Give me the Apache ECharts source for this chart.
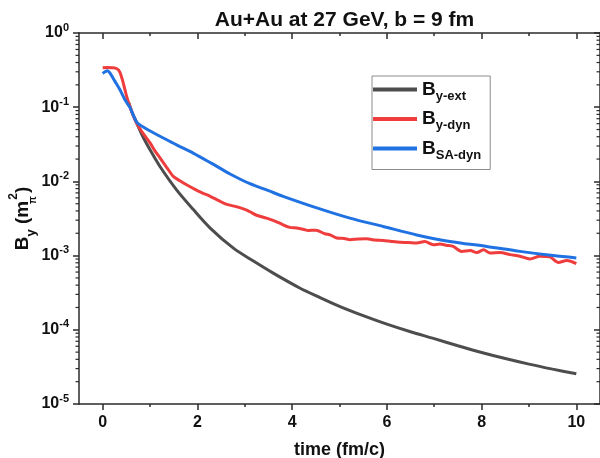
<!DOCTYPE html>
<html lang="en">
<head>
    <meta charset="utf-8"/>
    <title>Au+Au at 27 GeV</title>
    <script src="https://cdn.jsdelivr.net/npm/echarts@6/dist/echarts.min.js"></script>
    <style>
        html, body { margin: 0; padding: 0; background: #fff; }
        #main { width: 600px; height: 458px; }
    </style>
</head>
<body>
<div id="main"></div>
<script>
    // B_y-ext (black)
    var tExt = [0.55, 0.62, 0.68, 0.72, 0.85, 1.0, 1.21, 1.56, 1.91, 2.27, 2.76, 3.2, 3.6, 4.16, 4.6, 5.0, 5.5, 6.0, 6.5, 7.0, 7.5, 8.0, 8.5, 9.0, 9.5, 10.0];
    var bExt = [0.115, 0.085, 0.070, 0.061, 0.040, 0.0267, 0.0159, 0.0077, 0.0042, 0.00235, 0.00126, 0.00083, 0.00058, 0.000366, 0.00027, 0.000207, 0.000155, 0.000119, 0.000094, 0.000076, 0.000061, 0.0000495, 0.000041, 0.0000345, 0.0000295, 0.0000255];

    // B_y-dyn (red)
    var tDyn = [0.0, 0.1, 0.2, 0.3, 0.36, 0.42, 0.47, 0.52, 0.58, 0.68, 0.78, 0.88, 1.0, 1.1, 1.21, 1.35, 1.49, 1.63, 1.77, 1.95, 2.1, 2.27, 2.45, 2.62, 2.8, 3.0, 3.11, 3.25, 3.46, 3.65, 3.81, 3.95, 4.1, 4.25, 4.34, 4.5, 4.69, 4.8, 4.94, 5.1, 5.22, 5.4, 5.57, 5.75, 5.92, 6.1, 6.28, 6.45, 6.63, 6.8, 6.98, 7.12, 7.25, 7.4, 7.58, 7.76, 7.9, 8.04, 8.18, 8.39, 8.6, 8.81, 9.02, 9.23, 9.44, 9.62, 9.8, 10.0];
    var bDyn = [0.340, 0.342, 0.340, 0.330, 0.300, 0.230, 0.172, 0.130, 0.100, 0.068, 0.052, 0.042, 0.033, 0.026, 0.0207, 0.0155, 0.0117, 0.0102, 0.0090, 0.0078, 0.0070, 0.0063, 0.0055, 0.0049, 0.0046, 0.0042, 0.0039, 0.0035, 0.0032, 0.0029, 0.0026, 0.0024, 0.00235, 0.00225, 0.00218, 0.0022, 0.00197, 0.0019, 0.00173, 0.0017, 0.00164, 0.00168, 0.00169, 0.00162, 0.0016, 0.00155, 0.00151, 0.0015, 0.00148, 0.00155, 0.0014, 0.00143, 0.00138, 0.00133, 0.00114, 0.00117, 0.0011, 0.0012, 0.00108, 0.0011, 0.00103, 0.00098, 0.0009, 0.00098, 0.00096, 0.00081, 0.00086, 0.00078];

    // B_SA-dyn (blue)
    var tSA = [0.0, 0.05, 0.1, 0.155, 0.26, 0.365, 0.47, 0.58, 0.72, 0.9, 1.05, 1.21, 1.56, 1.91, 2.3, 2.7, 3.11, 3.5, 3.81, 4.52, 5.22, 5.92, 6.63, 7.33, 8.11, 8.81, 9.51, 10.0];
    var bSA = [0.285, 0.300, 0.310, 0.288, 0.223, 0.172, 0.126, 0.098, 0.063, 0.052, 0.046, 0.0406, 0.031, 0.0241, 0.0175, 0.0125, 0.0093, 0.0075, 0.0063, 0.0044, 0.0032, 0.00247, 0.0019, 0.00155, 0.00133, 0.00114, 0.0010, 0.00093];

    var seriesNames = ['y-ext', 'y-dyn', 'SA-dyn'];
    var seriesColors = ['#4d4d4d', '#ef3d3d', '#2072e2'];

    var xMajor = [0, 2, 4, 6, 8, 10];
    var xMinor = [1, 3, 5, 7, 9];
    var yMinor = [];
    for (var k = -5; k < 0; k++) {
        for (var m = 2; m <= 9; m++) {
            yMinor.push([0, m * Math.pow(10, k)]);
        }
    }

    function pairs(xs, ys) {
        var out = [];
        for (var i = 0; i < xs.length; i++) out.push([xs[i], ys[i]]);
        return out;
    }

    var font = 'Liberation Sans, Arial, sans-serif';
    var axisColor = '#2b2b2b';

    function xAxisCfg(pos, values, len, showLine) {
        return {
            type: 'value', position: pos, min: -0.5, max: 10.5,
            axisLine: {show: showLine, onZero: false, lineStyle: {color: axisColor, width: 1.5}},
            axisTick: {show: true, inside: pos === 'top', length: len, customValues: values, lineStyle: {color: axisColor, width: 1.5}},
            axisLabel: {show: false},
            splitLine: {show: false}
        };
    }

    var xBottom = xAxisCfg('bottom', xMajor, 6, true);
    xBottom.axisLabel = {show: true, customValues: xMajor, margin: 11, color: '#111', fontSize: 16, fontWeight: 'bold', fontFamily: font};
    xBottom.name = 'time (fm/c)';
    xBottom.nameLocation = 'middle';
    xBottom.nameGap = 37;
    xBottom.nameTextStyle = {color: '#111', fontSize: 18, fontWeight: 'bold', fontFamily: font};

    var myChart = echarts.init(document.getElementById('main'), null, {renderer: 'canvas'});
    var option = {
        animation: false,
        backgroundColor: '#fff',
        textStyle: {fontFamily: font},
        title: {
            text: 'Au+Au at 27 GeV, b = 9 fm',
            left: 339.5, top: 5, textAlign: 'center',
            textStyle: {color: '#111', fontSize: 21, fontWeight: 'bold', fontFamily: font}
        },
        grid: {left: 79, right: 0, top: 33, bottom: 54, containLabel: false, outerBoundsMode: 'none'},
        legend: {
            orient: 'vertical', left: 372, top: 76,
            data: seriesNames,
            icon: 'rect', itemWidth: 44, itemHeight: 4, itemGap: 7,
            padding: [4, 9, 8, 1],
            borderColor: '#8c8c8c', borderWidth: 1, backgroundColor: '#fff',
            formatter: function (name) { return '{b|B}{s|' + name + '}'; },
            textStyle: {
                color: '#111',
                rich: {
                    b: {fontSize: 19, fontWeight: 'bold', lineHeight: 26, fontFamily: font, color: '#111'},
                    s: {fontSize: 13, fontWeight: 'bold', lineHeight: 12, verticalAlign: 'bottom', fontFamily: font, color: '#111'}
                }
            }
        },
        xAxis: [
            xBottom,
            xAxisCfg('bottom', xMinor, 3, false),
            xAxisCfg('top', xMajor, 6, true),
            xAxisCfg('top', xMinor, 3, false)
        ],
        yAxis: [
            {
                type: 'log', logBase: 10, min: 1e-5, max: 1, interval: 1, position: 'left',
                axisLine: {show: true, onZero: false, lineStyle: {color: axisColor, width: 1.5}},
                axisTick: {show: true, length: 6, lineStyle: {color: axisColor, width: 1.5}},
                axisLabel: {
                    margin: 10,
                    formatter: function (v) { return '{n|10}{e|' + Math.round(Math.log10(v)) + '}'; },
                    rich: {
                        n: {fontSize: 16, fontWeight: 'bold', lineHeight: 22, color: '#111', fontFamily: font},
                        e: {fontSize: 11, fontWeight: 'bold', lineHeight: 14, verticalAlign: 'top', color: '#111', fontFamily: font}
                    }
                },
                splitLine: {show: false},
                name: '{b|B}{y|y}{b| (m}{pi|π}{two|2}{b|)}',
                nameLocation: 'middle', nameGap: 41, nameMoveOverlap: false,
                nameTextStyle: {
                    rich: {
                        b: {fontSize: 19, fontWeight: 'bold', lineHeight: 30, color: '#111', fontFamily: font},
                        y: {fontSize: 13, fontWeight: 'bold', lineHeight: 14, verticalAlign: 'bottom', color: '#111', fontFamily: font},
                        pi: {fontSize: 10, fontWeight: 'bold', lineHeight: 12, verticalAlign: 'bottom', width: 1, color: '#111', fontFamily: font},
                        two: {fontSize: 12, fontWeight: 'bold', lineHeight: 12, verticalAlign: 'top', color: '#111', fontFamily: font}
                    }
                }
            },
            {
                type: 'log', logBase: 10, min: 1e-5, max: 1, interval: 1, position: 'right',
                axisLine: {show: true, onZero: false, lineStyle: {color: axisColor, width: 1.5}},
                axisTick: {show: true, inside: true, length: 6, lineStyle: {color: axisColor, width: 1.5}},
                axisLabel: {show: false},
                splitLine: {show: false}
            }
        ],
        series: [
            {
                name: seriesNames[0], type: 'line', data: pairs(tExt, bExt),
                showSymbol: false, smooth: 0.3, color: seriesColors[0],
                lineStyle: {width: 3, color: seriesColors[0]}
            },
            {
                name: seriesNames[1], type: 'line', data: pairs(tDyn, bDyn),
                showSymbol: false, smooth: 0.3, color: seriesColors[1],
                lineStyle: {width: 3, color: seriesColors[1]}
            },
            {
                name: seriesNames[2], type: 'line', data: pairs(tSA, bSA),
                showSymbol: false, smooth: 0.3, color: seriesColors[2],
                lineStyle: {width: 3, color: seriesColors[2]}
            },
            {
                // minor log ticks on left (outward) and right (inward)
                name: 'minorTicks', type: 'custom', data: yMinor, silent: true, clip: false,
                xAxisIndex: 0, yAxisIndex: 0,
                renderItem: function (params, api) {
                    var y = api.coord([0, api.value(1)])[1];
                    var cs = params.coordSys;
                    var st = {stroke: axisColor, lineWidth: 1.2};
                    return {
                        type: 'group',
                        children: [
                            {type: 'line', shape: {x1: cs.x - 3.5, y1: y, x2: cs.x, y2: y}, style: st},
                            {type: 'line', shape: {x1: cs.x + cs.width - 3.5, y1: y, x2: cs.x + cs.width, y2: y}, style: st}
                        ]
                    };
                }
            }
        ]
    };

    if (option && typeof option === "object") {
        myChart.setOption(option, true);
    }
</script>
</body>
</html>
